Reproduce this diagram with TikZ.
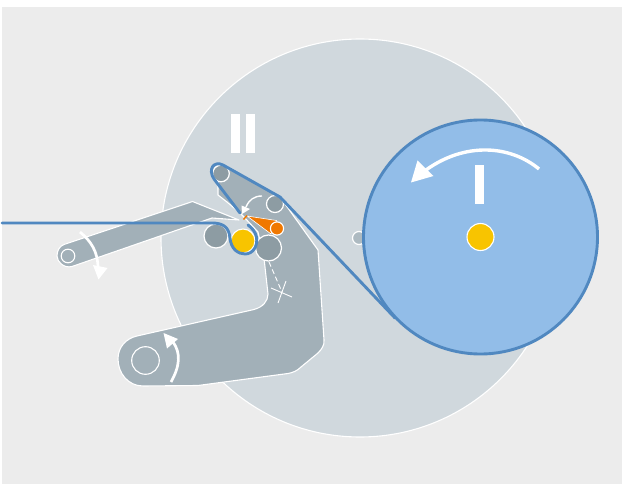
\documentclass[tikz,border=0pt]{standalone}
\usetikzlibrary{arrows.meta}
\definecolor{bgc}{HTML}{ECECEC}
\definecolor{discc}{HTML}{D0D8DD}
\definecolor{armc}{HTML}{A2B0B8}
\definecolor{rollc}{HTML}{8D9CA3}
\definecolor{bluef}{HTML}{92BDE8}
\definecolor{blues}{HTML}{5088C0}
\definecolor{yel}{HTML}{F8C400}
\definecolor{org}{HTML}{F07800}
\tikzset{
  armshape/.style={fill=armc,draw=white,line width=1.1pt,line join=round},
  roller/.style={fill=rollc,draw=white,line width=1.2pt},
  hub/.style={fill=yel,draw=white,line width=1.1pt},
  belt/.style={draw=blues,line width=2.9pt,line cap=round,line join=round},
  turn/.style={draw=white,line width=2.7pt},
  thinw/.style={draw=white,line width=0.9pt},
  bar/.style={fill=white,draw=none}
}
\begin{document}
\begin{tikzpicture}[x=1pt,y=-1pt]
\useasboundingbox (0,0) rectangle (622,484);
\fill[white] (0,0) rectangle (622,484);
\fill[bgc] (2,7) rectangle (622,484);
\filldraw[fill=discc,draw=white,line width=1.1pt] (360,238) circle (199);
\filldraw[fill=armc!75!discc,draw=white,line width=1.2pt] (359,238) circle (6.5);
% small arm
\draw[armshape] (64,244.5) -- (192.5,201.5) -- (239,220) -- (212,218) -- (72,266.5)
  .. controls (64,268.5) and (57,262) .. (57,256) .. controls (57,250) and (60,246) .. (64,244.5) -- cycle;
\draw[thinw,line width=1.1pt] (68,256) circle (6.8);
\draw[turn] (80,232) .. controls (91,241) and (98,252) .. (98,268);
\fill[white] (98.5,279.5) -- (93,265) -- (107.5,268) -- cycle;
% large arm
\draw[armshape] (137,336) -- (254,309.5) .. controls (263,307) and (268,301) .. (268,294)
  -- (264,258) -- (258,232) -- (244,217) -- (240,213) -- (227,202) -- (218,195) -- (218,184) -- (222,165) -- (280,197)
  -- (318,250) -- (324,340) .. controls (324.5,345) and (322,349) .. (318,353)
  -- (301,367) .. controls (297,371) and (293,372.5) .. (288,373.5)
  -- (198,385.5) -- (143,386) .. controls (128,386) and (118,373) .. (118,359)
  .. controls (118,347) and (126,338.5) .. (137,336) -- cycle;
\draw[thinw,line width=1.1pt] (145.5,360.5) circle (13.8);
\draw[turn] (171,382) .. controls (180,366) and (181,353) .. (173,342);
\fill[white] (163.5,333) -- (178,339) -- (167,348.5) -- cycle;
% rollers
\draw[roller] (216,236) circle (12);
\draw[roller] (268.5,248) circle (13);
\draw[roller] (275,204) circle (8.5);
\draw[roller] (221,173.5) circle (8.3);
\draw[hub] (243,241) circle (12);
% pivot line and star
\draw[thinw,dash pattern=on 5pt off 3pt] (269,262) -- (282,292);
\draw[thinw] (286,281) -- (278,303);
\draw[thinw] (271,288) -- (292,297);
% small arrow
\draw[thinw,line width=1.4pt] (262,196) .. controls (254,196) and (249,200) .. (246,207);
\fill[white] (242,214) -- (241.5,205.5) -- (250,209) -- cycle;
% orange blade
\fill[org,draw=white,line width=0.6pt] (247,216) -- (276.5,220.5) -- (271,234) -- cycle;
\draw[org,line width=1.5pt] (243.5,219.5) -- (247,215.5);
\draw[fill=org,draw=white,line width=1.1pt] (277,228.5) circle (6.6);
% belt
\draw[belt] (2,223) -- (212,223) .. controls (224,223) and (229,228) .. (230,238)
  .. controls (231,249) and (238,254) .. (245,254) .. controls (253,254) and (258,246) .. (256.5,237)
  .. controls (255.5,232) and (252,228) .. (248,225);
\draw[belt] (240,213) -- (214,179) .. controls (207.5,169) and (214,160.5) .. (223,165)
  -- (280,197) -- (395,318);
% drum
\filldraw[fill=bluef,draw=blues,line width=2.9pt] (480.5,237) circle (117);
\draw[turn,line width=3.4pt] (539,169) .. controls (510,145) and (465,142) .. (426,170);
\fill[white] (411,182.5) -- (417.5,160.5) -- (433.5,176) -- cycle;
\draw[hub] (480.5,237) circle (13.5);
\fill[bar] (475,165) rectangle (484,204);
\fill[bar] (231,114) rectangle (240,153);
\fill[bar] (246,114) rectangle (255,153);
\end{tikzpicture}
\end{document}
